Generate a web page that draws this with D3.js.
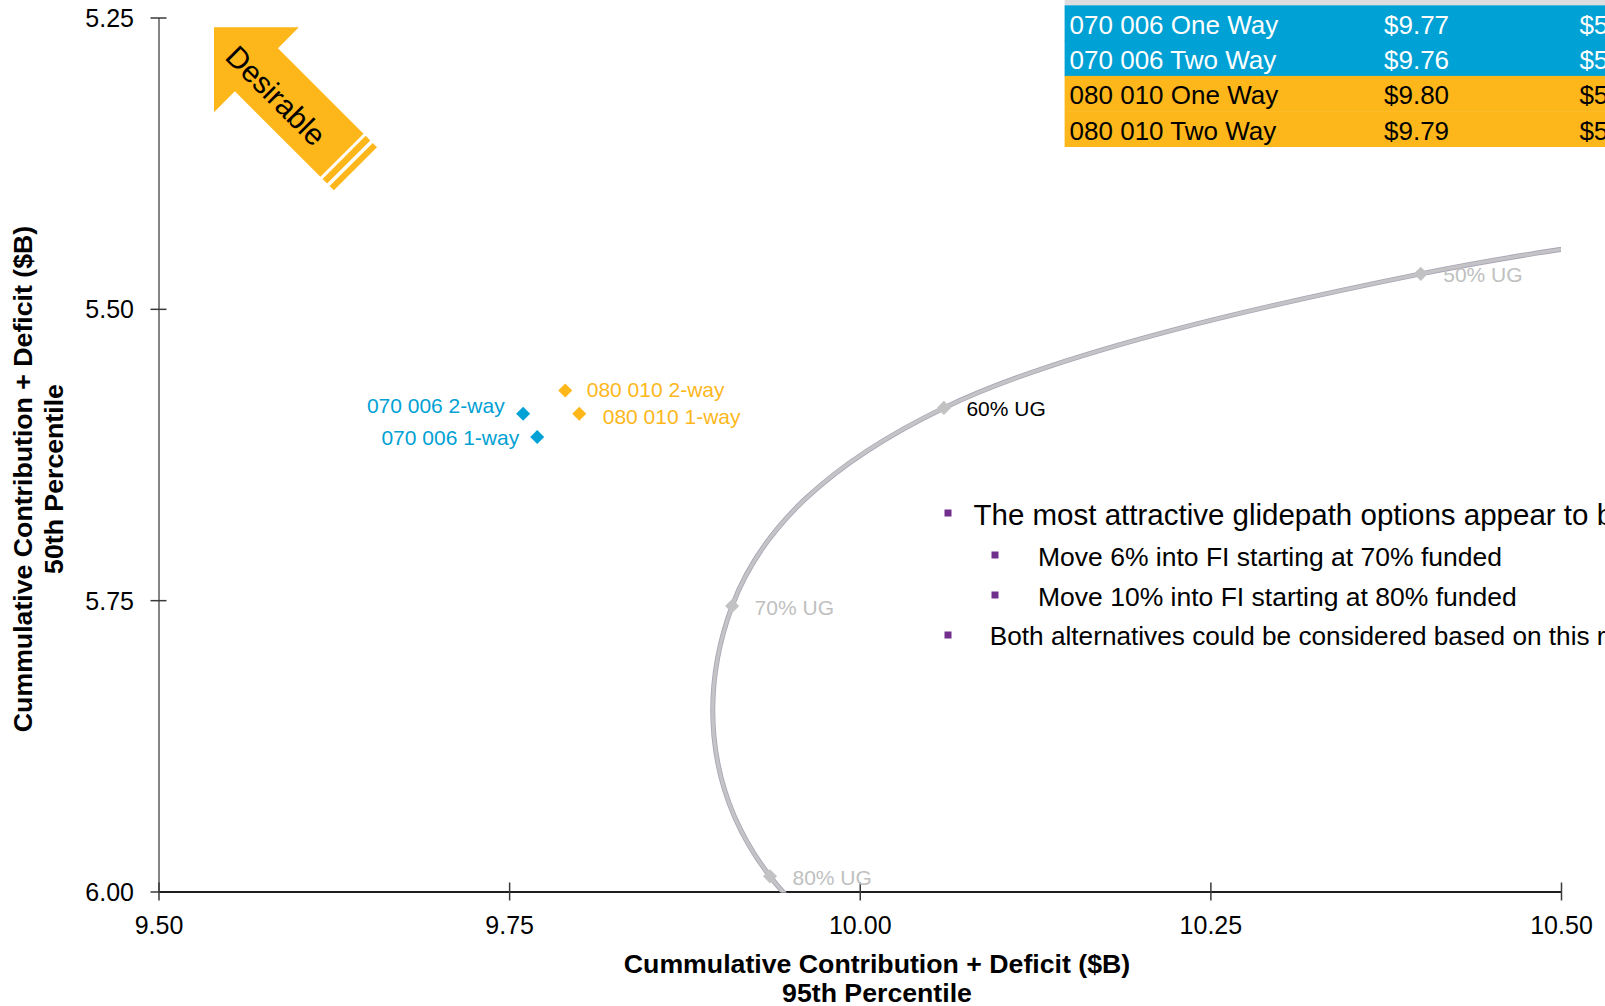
<!DOCTYPE html>
<html>
<head>
<meta charset="utf-8">
<script src="https://cdn.jsdelivr.net/npm/d3@7"></script>
<style>
  html, body { margin: 0; padding: 0; background: #fff; overflow: hidden; }
  svg { display: block; font-family: Arial, "Liberation Sans", sans-serif; }
</style>
</head>
<body>
<svg id="chart" width="1605" height="1006"></svg>
<script>
// Glidepath frontier by underfunded-growth level: 95th vs 50th percentile cost ($B)
const ugLabels = ["30% UG", "40% UG", "50% UG", "60% UG", "70% UG", "80% UG", "90% UG", "100% UG"];
const ugX = [11.241, 10.777, 10.400, 10.060, 9.909, 9.936, 10.208, 10.528];
const ugY = [5.372, 5.411, 5.470, 5.585, 5.755, 5.987, 6.222, 6.436];
const ugHighlight = "60% UG";

// Alternative glidepaths
const optionNames = ["070 006 One Way", "070 006 Two Way", "080 010 One Way", "080 010 Two Way"];
const optionShort = ["070 006 1-way", "070 006 2-way", "080 010 1-way", "080 010 2-way"];
const optionGroup = ["070 006", "070 006", "080 010", "080 010"];
const option95 = [9.77, 9.76, 9.80, 9.79];
const option50 = [5.61, 5.59, 5.59, 5.57];

// Row above the options in the summary table
const headerRow = ["70% UG", 9.91, 5.75];

// Axis ticks
const xTicks = [9.50, 9.75, 10.00, 10.25, 10.50];
const yTicks = [5.25, 5.50, 5.75, 6.00];

// Commentary
const bulletText = [
  "The most attractive glidepath options appear to be:",
  "Move 6% into FI starting at 70% funded",
  "Move 10% into FI starting at 80% funded",
  "Both alternatives could be considered based on this risk/return trade-off"
];
const bulletLevel = [0, 1, 1, 0];

// ---------------------------------------------------------------------------
const BLUE = "#00a1d4";
const ORANGE = "#fdb71b";
const groupColor = { "070 006": BLUE, "080 010": ORANGE };
const fmt2 = d3.format(".2f");

const svg = d3.select("#chart");

const x = d3.scaleLinear().domain([9.5, 10.5]).range([158.5, 1561]);
const y = d3.scaleLinear().domain([5.25, 6.0]).range([17.5, 891.5]);

// clip for the frontier curve
svg.append("defs").append("clipPath").attr("id", "plotClip")
  .append("rect")
  .attr("x", x.range()[0]).attr("y", y.range()[0])
  .attr("width", x.range()[1] - x.range()[0])
  .attr("height", y.range()[1] - y.range()[0] + 1);

// ---- Axes
const yAxis = svg.append("g")
  .attr("transform", `translate(${x.range()[0]},0)`)
  .call(d3.axisLeft(y).tickValues(yTicks).tickFormat(fmt2).tickSizeOuter(0).tickSizeInner(8));
yAxis.select(".domain").attr("stroke", "#858585").attr("stroke-width", 2);
yAxis.selectAll(".tick line").attr("x1", 8).attr("x2", -8).attr("stroke", "#3a3a3a").attr("stroke-width", 1.5);
yAxis.selectAll(".tick text")
  .attr("x", -24.5).attr("dy", "0.36em")
  .attr("font-size", 25).attr("font-family", "Arial, 'Liberation Sans', sans-serif")
  .attr("fill", "#000");

const xAxis = svg.append("g")
  .attr("transform", `translate(0,${y.range()[1]})`)
  .call(d3.axisBottom(x).tickValues(xTicks).tickFormat(fmt2).tickSizeOuter(0).tickSizeInner(9));
xAxis.select(".domain").attr("stroke", "#1e1e1e").attr("stroke-width", 2);
xAxis.selectAll(".tick line").attr("y1", -9).attr("y2", 9).attr("stroke", "#3a3a3a").attr("stroke-width", 1.5);
xAxis.selectAll(".tick text")
  .attr("y", 33).attr("dy", "0.36em")
  .attr("font-size", 25).attr("font-family", "Arial, 'Liberation Sans', sans-serif")
  .attr("fill", "#000");

// Axis titles
const xTitle = svg.append("text")
  .attr("text-anchor", "middle").attr("font-weight", "bold").attr("font-size", 26.7);
xTitle.append("tspan").attr("x", 877).attr("y", 963).attr("dy", "0.36em").text("Cummulative Contribution + Deficit ($B)");
xTitle.append("tspan").attr("x", 877).attr("y", 992).attr("dy", "0.36em").text("95th Percentile");

const yTitle = svg.append("g").attr("transform", "translate(0,479) rotate(-90)");
yTitle.append("text").attr("x", 0).attr("y", 22.5).attr("dy", "0.36em")
  .attr("text-anchor", "middle").attr("font-weight", "bold").attr("font-size", 26.7)
  .text("Cummulative Contribution + Deficit ($B)");
yTitle.append("text").attr("x", 0).attr("y", 53).attr("dy", "0.36em")
  .attr("text-anchor", "middle").attr("font-weight", "bold").attr("font-size", 26.7)
  .text("50th Percentile");

// ---- Frontier curve (smoothed line through every UG level)
const ug = ugLabels.map((l, i) => ({ label: l, x: ugX[i], y: ugY[i] }));
const line = d3.line().x(d => x(d.x)).y(d => y(d.y)).curve(d3.curveCardinal.tension(0));
const curveG = svg.append("g").attr("clip-path", "url(#plotClip)");
curveG.append("path").attr("d", line(ug))
  .attr("fill", "none").attr("stroke", "#aaa3b5").attr("stroke-width", 5);
curveG.append("path").attr("d", line(ug))
  .attr("fill", "none").attr("stroke", "#c4c4c7").attr("stroke-width", 3.4);

const diamond = s => d3.symbol().type(d3.symbolSquare).size(s);

// markers and labels only for levels inside the plotted range
const inside = d => d.x >= x.domain()[0] && d.x <= x.domain()[1] && d.y >= y.domain()[0] && d.y <= y.domain()[1];
const ugShown = ug.filter(inside);
svg.append("g").selectAll("path").data(ugShown).join("path")
  .attr("d", diamond(100))
  .attr("transform", d => `translate(${x(d.x)},${y(d.y)}) rotate(45)`)
  .attr("fill", "#c2c2c4");
svg.append("g").selectAll("text").data(ugShown).join("text")
  .attr("x", d => x(d.x) + 22.5)
  .attr("y", d => y(d.y) + 1)
  .attr("dy", "0.36em")
  .attr("font-size", 21)
  .attr("fill", d => d.label === ugHighlight ? "#000" : "#c0c0c0")
  .text(d => d.label);

// ---- Alternative glidepaths
const opts = optionNames.map((n, i) => ({
  name: n, short: optionShort[i], group: optionGroup[i], x: option95[i], y: option50[i]
}));
svg.append("g").selectAll("path").data(opts).join("path")
  .attr("d", diamond(98))
  .attr("transform", d => `translate(${x(d.x)},${y(d.y)}) rotate(45)`)
  .attr("fill", d => groupColor[d.group]);

// label placement for each option (dx from marker, anchor, dy)
const optLabelPlace = {
  "070 006 1-way": { dx: -18, dy: 0, anchor: "end" },
  "070 006 2-way": { dx: -18.5, dy: -8, anchor: "end" },
  "080 010 1-way": { dx: 23.5, dy: 3, anchor: "start" },
  "080 010 2-way": { dx: 21.5, dy: -1, anchor: "start" }
};
svg.append("g").selectAll("text").data(opts).join("text")
  .attr("x", d => x(d.x) + optLabelPlace[d.short].dx)
  .attr("y", d => y(d.y) + optLabelPlace[d.short].dy)
  .attr("dy", "0.36em")
  .attr("text-anchor", d => optLabelPlace[d.short].anchor)
  .attr("font-size", 21)
  .attr("fill", d => groupColor[d.group])
  .text(d => d.short);

// ---- Summary table (top right)
const tableX = 1064.6, rowH = 35.3, firstRowY = 5.3;
const colX = [1069.6, 1384, 1579.4];
const tbl = svg.append("g");
tbl.append("rect").attr("x", tableX).attr("y", firstRowY - rowH).attr("width", 600).attr("height", rowH)
  .attr("fill", "#dddde0");
[headerRow[0], "$" + fmt2(headerRow[1]), "$" + fmt2(headerRow[2])].forEach((t, j) => {
  tbl.append("text").attr("x", colX[j]).attr("y", firstRowY - rowH / 2 + 1).attr("dy", "0.36em")
    .attr("font-size", 26).attr("fill", "#000").text(t);
});
const rows = tbl.selectAll("g.row").data(opts).join("g")
  .attr("class", "row")
  .attr("transform", (d, i) => `translate(0,${firstRowY + i * rowH})`);
rows.append("rect").attr("x", tableX).attr("y", 0).attr("width", 600).attr("height", rowH + 0.5)
  .attr("fill", d => groupColor[d.group]);
rows.each(function (d) {
  const g = d3.select(this);
  const cells = [d.name, "$" + fmt2(d.x), "$" + fmt2(d.y)];
  cells.forEach((t, j) => {
    g.append("text").attr("x", colX[j]).attr("y", rowH / 2 + 1.5).attr("dy", "0.36em")
      .attr("font-size", 26)
      .attr("fill", d.group === "070 006" ? "#fff" : "#000")
      .text(t);
  });
});

// ---- "Desirable" arrow
const arrow = svg.append("g").attr("transform", "translate(214,27.3) rotate(45)");
arrow.append("path")
  .attr("d", "M0,0 L60,-60 L60,-30.5 L181,-30.5 L181,30.5 L60,30.5 L60,60 Z")
  .attr("fill", ORANGE);
arrow.append("rect").attr("x", 184).attr("y", -30.5).attr("width", 6.5).attr("height", 61).attr("fill", ORANGE);
arrow.append("rect").attr("x", 194).attr("y", -30.5).attr("width", 6).attr("height", 61).attr("fill", ORANGE);
arrow.append("text").attr("x", 92).attr("y", 15).attr("text-anchor", "middle")
  .attr("font-size", 30).attr("fill", "#000").text("Desirable");

// ---- Commentary bullets
const bulletLayout = [
  { bx: 948, tx: 973.5, cy: 514, size: 29.5 },
  { bx: 995, tx: 1038, cy: 556, size: 26.5 },
  { bx: 995, tx: 1038, cy: 596, size: 26.5 },
  { bx: 948, tx: 989.8, cy: 636, size: 26.2 }
];
const bullets = svg.append("g");
bulletText.forEach((t, i) => {
  const L = bulletLayout[i];
  bullets.append("rect").attr("x", L.bx - 3.5).attr("y", L.cy - 4.5).attr("width", 7).attr("height", 7)
    .attr("fill", "#722f8e");
  bullets.append("text").attr("x", L.tx).attr("y", L.cy).attr("dy", "0.36em")
    .attr("font-size", L.size).attr("fill", "#000")
    .attr("data-level", bulletLevel[i])
    .text(t);
});
</script>
</body>
</html>
